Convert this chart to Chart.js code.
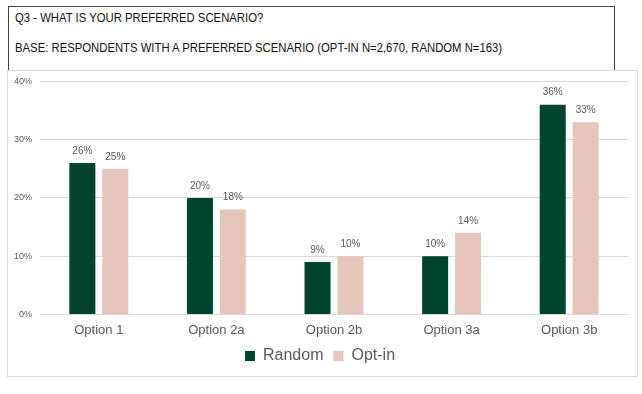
<!DOCTYPE html>
<html>
<head>
<meta charset="utf-8">
<script src="https://cdn.jsdelivr.net/npm/chart.js@4"></script>
<style>
    body { margin: 0; background: #fff; width: 642px; height: 394px; position: relative; overflow: hidden; }
    #titleBox {
        position: absolute; left: 8px; top: 6px; width: 605px; height: 80px;
        border: 1px solid #444; background: #fff;
        font-family: "Liberation Sans", Arial, sans-serif;
        font-size: 13px; color: #111;
    }
    #titleBox div { position: absolute; left: 6px; transform: scaleX(0.87); transform-origin: left top; white-space: nowrap; }
    #titleBox .l1 { top: 3px; }
    #titleBox .l2 { top: 33px; }
    #chartBox {
        position: absolute; left: 7px; top: 70px; width: 629px; height: 305px;
        border: 1px solid #d9d9d9; background: #fff;
    }
    #chart { position: absolute; left: 0; top: -3px; }
</style>
</head>
<body>
<div id="titleBox">
    <div class="l1">Q3 - WHAT IS YOUR PREFERRED SCENARIO?</div>
    <div class="l2">BASE: RESPONDENTS WITH A PREFERRED SCENARIO (OPT-IN N=2,670, RANDOM N=163)</div>
</div>
<div id="chartBox"><canvas id="chart" width="629" height="308"></canvas></div>
<script>
const categories = ["Option 1", "Option 2a", "Option 2b", "Option 3a", "Option 3b"];
const random = [26, 20, 9, 10, 36];
const optIn = [25, 18, 10, 14, 33];
const yTicks = [0, 10, 20, 30, 40];

// value labels above each bar
const barLabels = {
    id: "barLabels",
    afterDatasetsDraw(chart) {
        const ctx = chart.ctx;
        ctx.save();
        ctx.font = "10px 'Liberation Sans', Arial, sans-serif";
        ctx.fillStyle = "#595959";
        ctx.textAlign = "center";
        ctx.textBaseline = "bottom";
        chart.data.datasets.forEach((ds, i) => {
            chart.getDatasetMeta(i).data.forEach((bar, j) => {
                ctx.fillText(ds.data[j] + "%", bar.x, bar.y - 7);
            });
        });
        ctx.restore();
    }
};

chart = new Chart(document.getElementById("chart"), {
    type: "bar",
    data: {
        labels: categories,
        datasets: [
            { label: "Random", data: random, backgroundColor: "#00432f" },
            { label: "Opt-in", data: optIn, backgroundColor: "#e6c5ba" }
        ]
    },
    options: {
        responsive: false,
        animation: false,
        layout: { padding: { left: 4, right: 9, top: 4, bottom: 2 } },
        datasets: { bar: { categoryPercentage: 0.56, barPercentage: 0.79 } },
        plugins: {
            tooltip: { enabled: false },
            legend: {
                position: "bottom",
                labels: {
                    color: "#595959",
                    font: { family: "'Liberation Sans', Arial, sans-serif", size: 16 },
                    boxWidth: 10, boxHeight: 10, padding: 10
                }
            }
        },
        scales: {
            x: {
                grid: { display: false },
                border: { display: false },
                ticks: {
                    color: "#595959",
                    padding: 0,
                    font: { family: "'Liberation Sans', Arial, sans-serif", size: 13 }
                }
            },
            y: {
                min: 0, max: 40,
                afterBuildTicks: s => { s.ticks = yTicks.map(v => ({ value: v })); },
                afterFit: s => { s.width = 28; },
                grid: { color: "#d9d9d9", drawTicks: false },
                border: { display: false },
                ticks: {
                    color: "#595959",
                    padding: 8,
                    font: { family: "'Liberation Sans', Arial, sans-serif", size: 9 },
                    callback: v => v + "%"
                }
            }
        }
    },
    plugins: [barLabels]
});
</script>
</body>
</html>
